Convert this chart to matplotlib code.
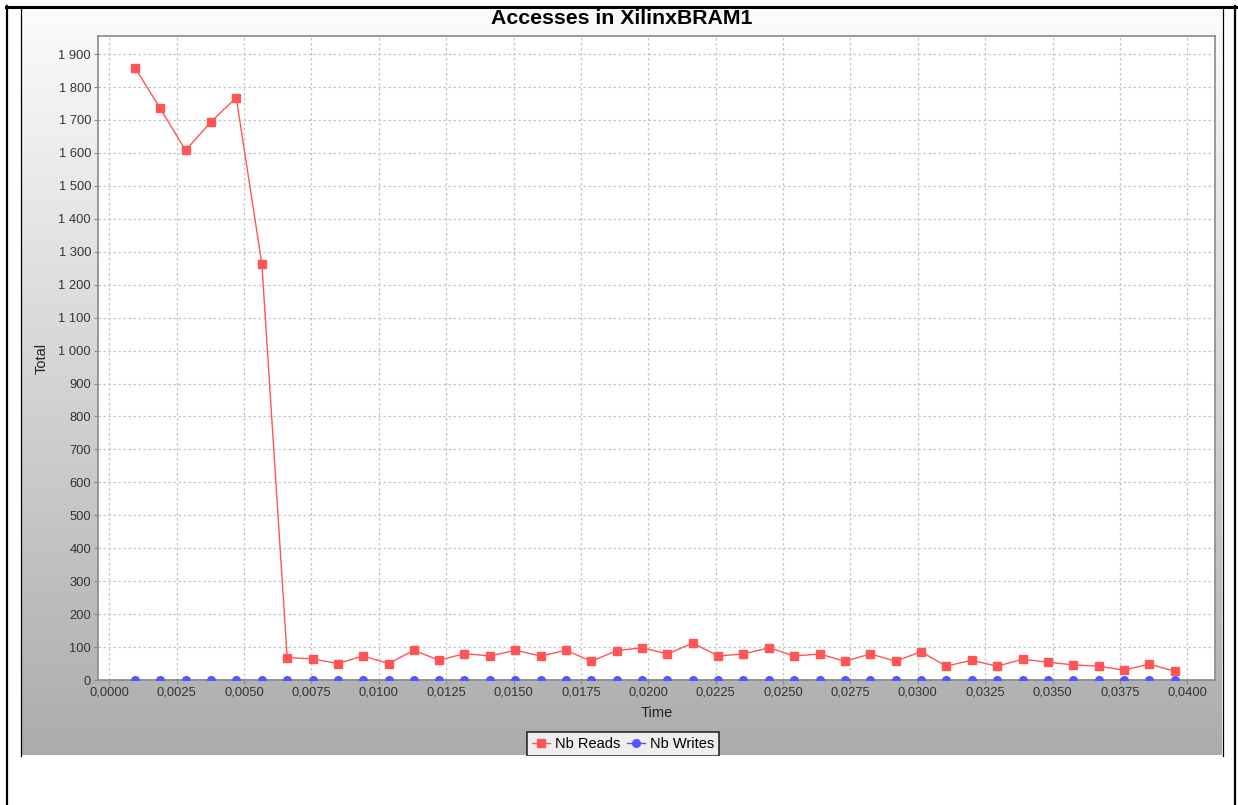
import numpy as np
import matplotlib
matplotlib.use("Agg")
import matplotlib.pyplot as plt
from matplotlib.ticker import FuncFormatter, MultipleLocator
from matplotlib.lines import Line2D
from matplotlib.patches import Rectangle

# data
times = [0.00095, 0.00189, 0.00283, 0.00377, 0.00471, 0.00566, 0.00660,
         0.00754, 0.00848, 0.00942, 0.01036, 0.01130, 0.01224, 0.01318,
         0.01412, 0.01507, 0.01601, 0.01695, 0.01789, 0.01883, 0.01977,
         0.02071, 0.02165, 0.02259, 0.02353, 0.02448, 0.02542, 0.02636,
         0.02730, 0.02824, 0.02918, 0.03012, 0.03106, 0.03200, 0.03294,
         0.03389, 0.03483, 0.03577, 0.03671, 0.03765, 0.03859, 0.03953]
nb_reads = [1859, 1735, 1608, 1694, 1768, 1263, 68, 64, 50, 73, 50, 90,
            60, 80, 73, 90, 73, 90, 57, 89, 98, 79, 112, 73, 79, 98, 73,
            79, 57, 79, 57, 86, 42, 60, 42, 63, 54, 46, 42, 30, 48, 27]
nb_writes = [0] * len(times)

title = "Accesses in XilinxBRAM1"
x_label = "Time"
y_label = "Total"

W, H = 1238, 805
plt.rcParams['font.family'] = ['Liberation Sans', 'DejaVu Sans']

fig = plt.figure(figsize=(W / 100, H / 100), dpi=100)


def fx(px):
    return px / W


def fy(py):
    return 1 - py / H


# gradient panel behind the chart
bg = fig.add_axes([fx(21), fy(755), fx(1222) - fx(21), fy(8) - fy(755)], zorder=-5)
grad = np.linspace(252, 172, 256).reshape(-1, 1) / 255.0
bg.imshow(np.dstack([grad, grad, grad]), aspect='auto', extent=[0, 1, 0, 1])
bg.set_axis_off()

ax = fig.add_axes([fx(98), fy(680), fx(1215) - fx(98), fy(36) - fy(680)])
ax.set_facecolor('white')

red = '#ff5555'
blue = '#5555ff'
ax.plot(times, nb_writes, color=blue, lw=1, marker='o', ms=5.5,
        mec=blue, mfc=blue, label='Nb Writes', zorder=3)
ax.plot(times, nb_reads, color=red, lw=1, marker='s', ms=5.5,
        mec=red, mfc=red, label='Nb Reads', zorder=4)

ax.set_xlim(-0.00042, 0.04103)
ax.set_ylim(0, 1955)
ax.xaxis.set_major_locator(MultipleLocator(0.0025))
ax.yaxis.set_major_locator(MultipleLocator(100))
ax.xaxis.set_major_formatter(FuncFormatter(lambda v, p: f"{v:.4f}".replace('.', ',')))
ax.yaxis.set_major_formatter(FuncFormatter(lambda v, p: f"{int(round(v)):,}".replace(',', ' ')))
ax.tick_params(axis='both', direction='out', length=3, width=0.8, color='#888888',
               labelsize=9.3, labelcolor='#333333', pad=2)

ax.grid(True, color='#c4c4c4', lw=0.9, linestyle=(0, (2, 2)))
ax.set_axisbelow(True)
for s in ax.spines.values():
    s.set_color('#8a8a8a')
    s.set_linewidth(1.2)

ax.set_xlabel(x_label, fontsize=10.5, color='#222222', labelpad=5)
ax.set_ylabel(y_label, fontsize=10.5, color='#222222', labelpad=7)

fig.text(0.5 * (fx(21) + fx(1222)), fy(18), title, ha='center', va='center',
         fontsize=15.3, fontweight='bold')

handles = [Line2D([], [], color=red, lw=1, marker='s', ms=5.5),
           Line2D([], [], color=blue, lw=1, marker='o', ms=5.5)]
leg = fig.legend(handles, ['Nb Reads', 'Nb Writes'], loc='upper center',
                 bbox_to_anchor=(fx(623), fy(732)), ncol=2, frameon=True,
                 fancybox=False, fontsize=10.5, handlelength=1.25,
                 handletextpad=0.3, columnspacing=0.5, borderpad=0.35,
                 borderaxespad=0)
leg.get_frame().set_edgecolor('black')
leg.get_frame().set_linewidth(1.2)
leg.set_zorder(2)

# white page below the chart panel hides the legend's lower part
fig.patches.append(Rectangle((fx(8), 0), fx(1234) - fx(8), fy(755.5), transform=fig.transFigure,
                             facecolor='white', edgecolor='none', zorder=6))

# document borders
border = dict(transform=fig.transFigure, color='black', zorder=7)
fig.lines.append(Line2D([fx(7), fx(7)], [0, fy(6)], lw=1.6, **border))
fig.lines.append(Line2D([fx(1234.5), fx(1234.5)], [0, fy(6)], lw=1.6, **border))
fig.lines.append(Line2D([fx(6), fx(1236)], [fy(7), fy(7)], lw=2.2, **border))
fig.lines.append(Line2D([fx(21), fx(21)], [fy(755.5), fy(7)], lw=0.9, **border))
fig.lines.append(Line2D([fx(1222.5), fx(1222.5)], [fy(755.5), fy(7)], lw=0.9, **border))

fig.savefig('out.png', dpi=100)
